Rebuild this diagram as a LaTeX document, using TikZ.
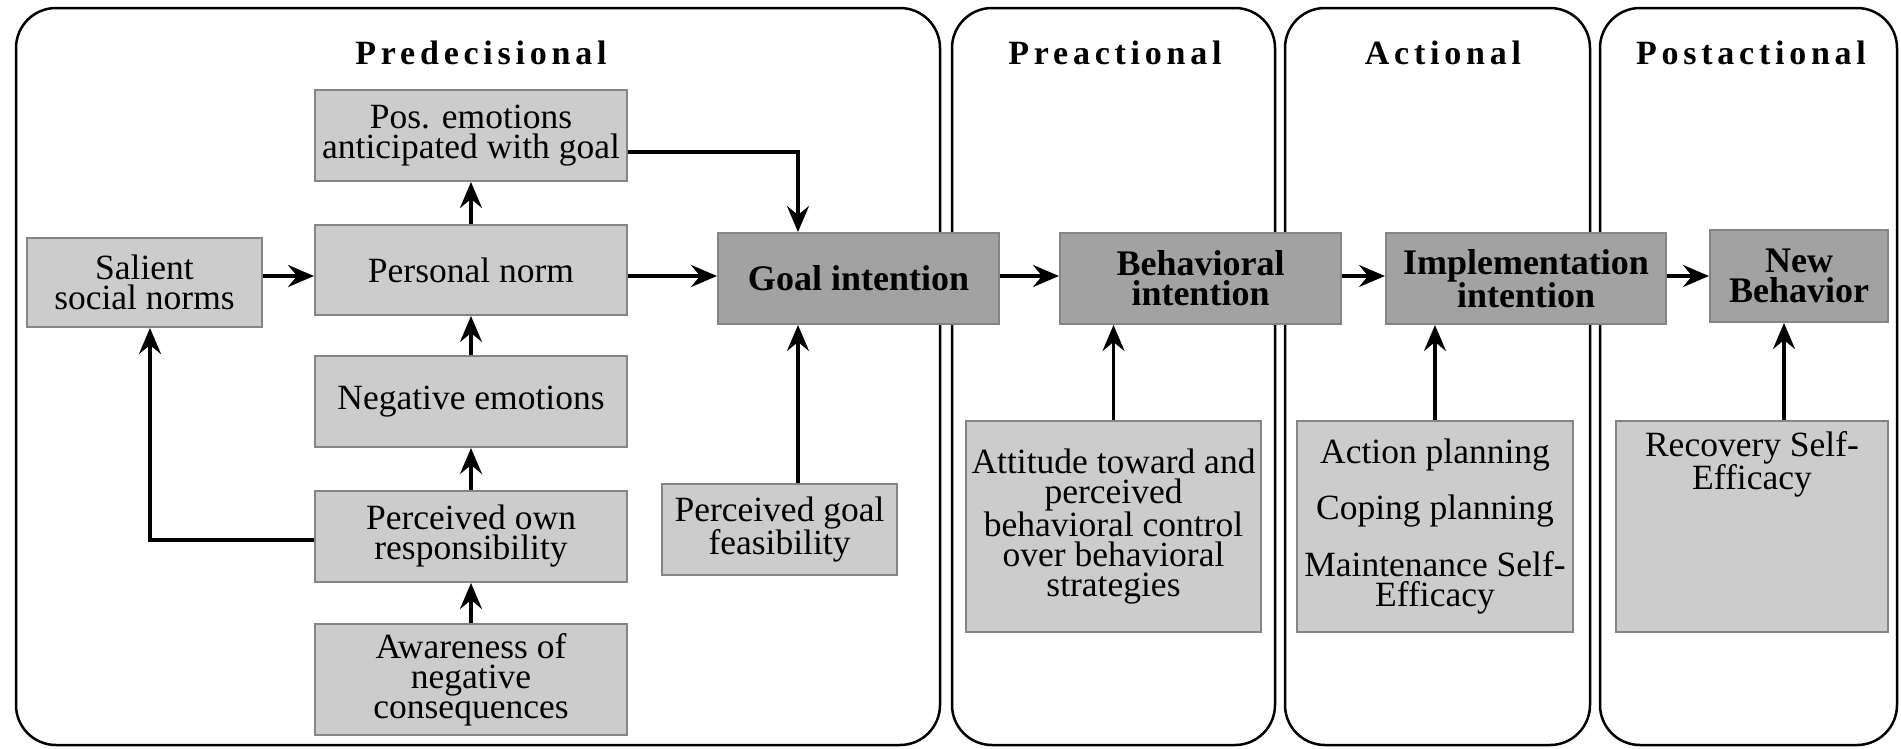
\documentclass[tikz,border=0pt]{standalone}
\usepackage{fontspec}
\setmainfont{Liberation Serif}
\usetikzlibrary{arrows.meta,positioning}
\definecolor{boxlight}{HTML}{CBCCCB}
\definecolor{boxdark}{HTML}{A2A2A2}
\definecolor{boxedge}{HTML}{858585}
\tikzset{
  frame/.style={line width=2.5pt, rounded corners=40pt},
  phase/.style={font=\fontsize{34}{34}\selectfont\bfseries\addfontfeature{LetterSpace=14}},
  lbox/.style={draw=boxedge, fill=boxlight, line width=2pt, align=center, inner sep=0pt,
    font=\fontsize{35.5}{30}\selectfont},
  dbox/.style={lbox, fill=boxdark, font=\fontsize{36}{30}\selectfont\bfseries},
  arr/.style={line width=3.5pt, -{Stealth[length=26pt,width=22pt,inset=9pt]}},
}
\begin{document}
\begin{tikzpicture}[x=1pt,y=-1pt]
		\useasboundingbox (0,0) rectangle (1901,748);
		% phase frames
		\draw[frame] (16,8) rectangle (940,745);
		\draw[frame] (952,8) rectangle (1275,745);
		\draw[frame] (1285,8) rectangle (1590,745);
		\draw[frame] (1600,8) rectangle (1897,745);
		\node[phase] (tpre) at (481,53) {Predecisional};
		\node[phase] (tpreact) at (1115,53) {Preactional};
		\node[phase] (tact) at (1443,53) {Actional};
		\node[phase] (tpost) at (1751,53) {Postactional};

		% predecisional boxes
		\node[lbox, minimum width=312pt, minimum height=91pt] (pos) at (471,135.5) {Pos. emotions\\anticipated with goal};
		\node[lbox, minimum width=312pt, minimum height=90pt] (pn) at (471,270) {Personal norm};
		\node[lbox, minimum width=235pt, minimum height=89pt] (sal) at (144.5,282.5) {Salient\\social norms};
		\node[lbox, minimum width=312pt, minimum height=91pt] (neg) at (471,401.5) {Negative emotions};
		\node[lbox, minimum width=312pt, minimum height=91pt] (resp) at (471,536.5) {Perceived own\\responsibility};
		\node[lbox, minimum width=312pt, minimum height=111pt] (aware) at (471,679.5) {Awareness of\\negative\\consequences};
		\node[lbox, minimum width=235pt, minimum height=91pt] (feas) at (779.5,529.5) {Perceived goal\\feasibility};

		% intentions
		\node[dbox, minimum width=281pt, minimum height=91pt] (goal) at (858.5,278.5) {Goal intention};
		\node[dbox, minimum width=281pt, minimum height=91pt] (beh) at (1200.5,278.5) {Behavioral\\intention};
		\node[dbox, minimum width=280pt, minimum height=91pt] (impl) at (1526,278.5) {Implementation\\intention};
		\node[dbox, minimum width=178pt, minimum height=92pt] (nb) at (1799,276) {New\\Behavior};

		% lower boxes
		\node[lbox, minimum width=295pt, minimum height=211pt] (att) at (1113.5,526.5) {Attitude toward and\\perceived\\behavioral control\\over behavioral\\strategies};
		\node[lbox, minimum width=276pt, minimum height=211pt] (plan) at (1435,526.5) {Action planning\\[23pt]Coping planning\\[23pt]Maintenance Self-\\Efficacy};
		\node[lbox, minimum width=272pt, minimum height=211pt] (rec) at (1752,526.5) {};
		\node[lbox, draw=none, below=10pt of rec.north] (rectxt) {Recovery Self-\\Efficacy};

		% arrows
		\coordinate (row) at (0,276);
		\draw[arr] (sal.east |- row) -- (pn.west |- row);
		\draw[arr] (pn.east |- row) -- (goal.west |- row);
		\draw[arr] (goal.east |- row) -- (beh.west |- row);
		\draw[arr] (beh.east |- row) -- (impl.west |- row);
		\draw[arr] (impl.east |- row) -- (nb.west |- row);
		\draw[arr] (pn.north) -- (pos.south);
		\draw[arr] (neg.north) -- (pn.south);
		\draw[arr] (resp.north) -- (neg.south);
		\draw[arr] (aware.north) -- (resp.south);
		\coordinate (turn) at (798,152);
		\draw[arr] (pos.east |- turn) -- (turn) -- (goal.north -| turn);
		\draw[arr] (feas.north -| turn) -- (goal.south -| turn);
		\coordinate (back) at (150,540);
		\draw[arr] (resp.west |- back) -- (back) -- (sal.south -| back);
		\draw[arr] (att.north) -- (beh.south -| att.north);
		\draw[arr] (plan.north) -- (impl.south -| plan.north);
		\coordinate (upnb) at (1784,0);
		\draw[arr] (rec.north -| upnb) -- (nb.south -| upnb);
	\end{tikzpicture}
\end{document}
